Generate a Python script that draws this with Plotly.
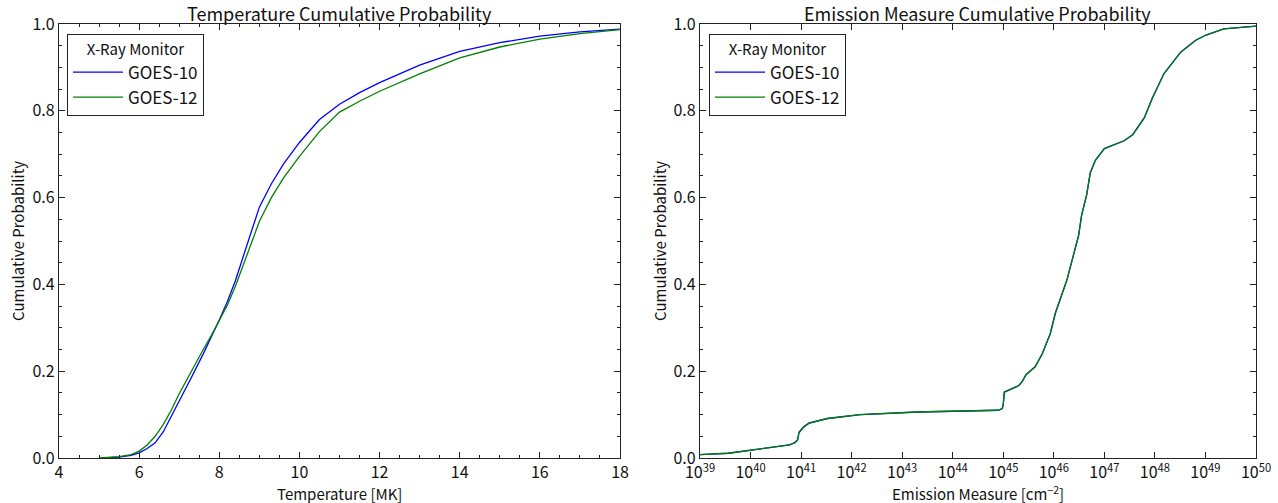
import plotly.graph_objects as go

# ---- Temperature data (MK) ----
temp_g10 = [5.1, 5.5, 5.8, 6.0, 6.2, 6.4, 6.6, 6.8, 7.0, 7.3, 7.6, 7.8, 8.0, 8.2, 8.3, 8.4,
            8.6, 8.8, 9.0, 9.3, 9.6, 10.0, 10.5, 11.0, 11.5, 12.0, 13.0, 14.0, 15.0, 16.0, 17.0, 18.0]
cdf_g10 = [0.0, 0.002, 0.006, 0.012, 0.022, 0.035, 0.06, 0.095, 0.13, 0.185, 0.24, 0.278, 0.318,
           0.36, 0.385, 0.408, 0.465, 0.522, 0.578, 0.632, 0.677, 0.727, 0.78, 0.815, 0.842, 0.865,
           0.905, 0.937, 0.957, 0.972, 0.982, 0.988]

temp_g12 = [5.0, 5.5, 5.8, 6.0, 6.2, 6.4, 6.6, 6.8, 7.0, 7.3, 7.6, 7.8, 8.0, 8.2, 8.4, 8.6,
            8.8, 9.0, 9.3, 9.6, 10.0, 10.5, 11.0, 11.5, 12.0, 13.0, 14.0, 15.0, 16.0, 17.0, 18.0]
cdf_g12 = [0.0, 0.003, 0.008, 0.016, 0.03, 0.05, 0.077, 0.11, 0.148, 0.2, 0.25, 0.282, 0.316,
           0.352, 0.395, 0.445, 0.495, 0.545, 0.6, 0.645, 0.695, 0.752, 0.797, 0.822, 0.845,
           0.885, 0.922, 0.947, 0.965, 0.978, 0.987]

# ---- Emission measure data (log10 of cm^-2) ----
em_exp_g10 = [39.0, 39.13, 39.56, 40.77, 40.88, 40.93, 40.96, 41.05, 41.16, 41.52, 42.17, 43.3,
              44.9, 44.98, 45.0, 45.02, 45.31, 45.38, 45.45, 45.63, 45.77, 45.93, 46.03, 46.26,
              46.39, 46.49, 46.55, 46.65, 46.72, 46.82, 47.0, 47.39, 47.56, 47.79, 47.95, 48.18,
              48.51, 48.8, 49.0, 49.36, 50.0]
em_cdf_g10 = [0.008, 0.009, 0.011, 0.03, 0.036, 0.042, 0.06, 0.072, 0.081, 0.091, 0.1, 0.106,
              0.11, 0.114, 0.124, 0.152, 0.167, 0.177, 0.192, 0.21, 0.24, 0.287, 0.334, 0.411,
              0.466, 0.513, 0.56, 0.607, 0.657, 0.686, 0.713, 0.731, 0.745, 0.784, 0.83, 0.886,
              0.935, 0.962, 0.974, 0.989, 0.995]

em_exp_g12 = [39.0, 39.13, 39.56, 40.77, 40.88, 40.93, 40.96, 41.05, 41.16, 41.52, 42.17, 43.3,
              44.9, 44.98, 45.0, 45.02, 45.31, 45.38, 45.45, 45.63, 45.77, 45.93, 46.03, 46.26,
              46.39, 46.49, 46.55, 46.65, 46.72, 46.82, 47.0, 47.39, 47.56, 47.79, 47.95, 48.18,
              48.51, 48.8, 49.0, 49.36, 50.0]
em_cdf_g12 = [0.008, 0.009, 0.011, 0.03, 0.035, 0.041, 0.058, 0.071, 0.08, 0.091, 0.1, 0.106,
              0.11, 0.114, 0.123, 0.151, 0.167, 0.177, 0.192, 0.21, 0.239, 0.286, 0.333, 0.41,
              0.465, 0.512, 0.559, 0.606, 0.656, 0.685, 0.713, 0.731, 0.745, 0.783, 0.829, 0.886,
              0.935, 0.962, 0.974, 0.989, 0.995]

em_tick_exps = list(range(39, 51))
em_tick_labels = [f"10<sup>{e}</sup>" for e in em_tick_exps]
prob_ticks = [0.0, 0.2, 0.4, 0.6, 0.8, 1.0]
prob_labels = ["0.0", "0.2", "0.4", "0.6", "0.8", "1.0"]
temp_ticks = [4, 6, 8, 10, 12, 14, 16, 18]

FONT = "Noto Sans CJK JP"
BLUE = "#0000ff"
GREEN = "#008000"
W, H = 1278, 503


def pw(e):
    return float(10.0 ** e)


fig = go.Figure()
fig.add_trace(go.Scatter(x=temp_g10, y=cdf_g10, mode="lines", name="GOES-10",
                         line=dict(color=BLUE, width=1.3), xaxis="x", yaxis="y", legend="legend"))
fig.add_trace(go.Scatter(x=temp_g12, y=cdf_g12, mode="lines", name="GOES-12",
                         line=dict(color=GREEN, width=1.3), xaxis="x", yaxis="y", legend="legend"))
fig.add_trace(go.Scatter(x=[pw(e) for e in em_exp_g10], y=em_cdf_g10, mode="lines", name="GOES-10",
                         line=dict(color=BLUE, width=1.3), xaxis="x2", yaxis="y2", legend="legend2"))
fig.add_trace(go.Scatter(x=[pw(e) for e in em_exp_g12], y=em_cdf_g12, mode="lines", name="GOES-12",
                         line=dict(color=GREEN, width=1.3), xaxis="x2", yaxis="y2", legend="legend2"))

axis_common = dict(showline=True, linecolor="#222222", linewidth=1.2, mirror="allticks",
                   ticks="inside", ticklen=6, tickwidth=1, tickcolor="#222222",
                   showgrid=False, zeroline=False, automargin=False,
                   tickfont=dict(family=FONT, size=16, color="#111111"))

lx0, lx1 = 59 / W, 620 / W
ly0, ly1 = 1 - 458 / H, 1 - 24 / H
rx0, rx1 = 700 / W, 1256 / W
ry0, ry1 = 1 - 458 / H, 1 - 24 / H

legend_common = dict(xanchor="left", yanchor="top", bordercolor="#222222", borderwidth=1,
                     bgcolor="white", itemwidth=50, tracegroupgap=0,
                     title=dict(text="X-Ray Monitor", side="top center",
                                font=dict(family=FONT, size=15, color="#111111")),
                     font=dict(family=FONT, size=17, color="#111111"))

fig.update_layout(
    width=W, height=H, margin=dict(l=0, r=0, t=0, b=0),
    plot_bgcolor="white", paper_bgcolor="white",
    xaxis=dict(domain=[lx0, lx1], range=[4, 18], tickvals=temp_ticks, anchor="y",
               minor=dict(dtick=0.5, ticks="inside", ticklen=3, tickcolor="#222222", showgrid=False),
               **axis_common),
    yaxis=dict(domain=[ly0, ly1], range=[0, 1], tickvals=prob_ticks, ticktext=prob_labels, anchor="x",
               minor=dict(dtick=0.05, ticks="inside", ticklen=3, tickcolor="#222222", showgrid=False),
               **axis_common),
    xaxis2=dict(domain=[rx0, rx1], type="log", range=[39, 50], anchor="y2",
                tickvals=[pw(e) for e in em_tick_exps], ticktext=em_tick_labels, **axis_common),
    yaxis2=dict(domain=[ry0, ry1], range=[0, 1], tickvals=prob_ticks, ticktext=prob_labels, anchor="x2",
                minor=dict(dtick=0.05, ticks="inside", ticklen=3, tickcolor="#222222", showgrid=False),
                **axis_common),
    legend=dict(x=67 / W, y=1 - 34 / H, **legend_common),
    legend2=dict(x=709 / W, y=1 - 34 / H, **legend_common),
)

annots = [
    dict(text="Temperature Cumulative Probability", x=(lx0 + lx1) / 2, y=1 - 13 / H, size=18),
    dict(text="Emission Measure Cumulative Probability", x=(rx0 + rx1) / 2, y=1 - 13 / H, size=18),
    dict(text="Temperature [MK]", x=(lx0 + lx1) / 2, y=1 - 493 / H, size=15),
    dict(text="Emission Measure [cm<sup>−2</sup>]", x=(rx0 + rx1) / 2, y=1 - 493 / H, size=15),
]
for a in annots:
    fig.add_annotation(text=a["text"], x=a["x"], y=a["y"], xref="paper", yref="paper",
                       showarrow=False, xanchor="center", yanchor="middle",
                       font=dict(family=FONT, size=a["size"], color="#111111"))
for xpos, ymid in [(17 / W, (ly0 + ly1) / 2), (659 / W, (ry0 + ry1) / 2)]:
    fig.add_annotation(text="Cumulative Probability", x=xpos, y=ymid, xref="paper", yref="paper",
                       showarrow=False, textangle=-90, xanchor="center", yanchor="middle",
                       font=dict(family=FONT, size=15, color="#111111"))

fig.write_html("out.html")
